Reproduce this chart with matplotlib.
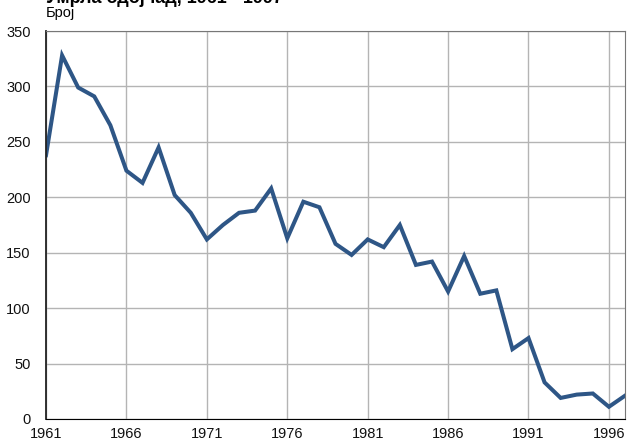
import matplotlib
matplotlib.use('Agg')
import matplotlib.pyplot as plt

years = list(range(1961, 1998))
deaths = [238, 328, 299, 291, 265, 224, 213, 245, 202, 186,
          162, 175, 186, 188, 208, 163, 196, 191, 158, 148,
          162, 155, 175, 139, 142, 115, 147, 113, 116, 63,
          73, 33, 19, 22, 23, 11, 21]
xticks = [1961, 1966, 1971, 1976, 1981, 1986, 1991, 1996]
yticks = [0, 50, 100, 150, 200, 250, 300, 350]

plt.rcParams['font.family'] = ['Liberation Sans', 'DejaVu Sans']

fig = plt.figure(figsize=(6.27, 4.43), dpi=100)
ax = fig.add_axes([0.0734, 0.0542, 0.9234, 0.8758])

ax.plot(years, deaths, color='#2e5686', lw=2.9, solid_joinstyle='miter')

ax.set_xlim(1961, 1997)
ax.set_ylim(0, 350)
ax.set_xticks(xticks)
ax.set_yticks(yticks)
ax.grid(True, color='#b4b4b4', lw=1.0)
ax.set_axisbelow(True)
ax.tick_params(length=0, labelsize=10.5, colors='#111111')
ax.tick_params(axis='y', pad=11)
ax.tick_params(axis='x', pad=6)

for side in ['top', 'right']:
    ax.spines[side].set_color('#777777')
ax.spines['left'].set_color('#222222')
ax.spines['left'].set_linewidth(1.3)
ax.spines['bottom'].set_color('#000000')

# title sits partly above the figure edge, as in the source image
fig.text(0.073, 1.004, 'Умрла одојчад, 1961 - 1997', fontsize=13, fontweight='bold',
         va='center', ha='left')
fig.text(0.073, 0.971, 'Број', fontsize=10.5, va='center', ha='left')

fig.savefig('out.png', dpi=100)
